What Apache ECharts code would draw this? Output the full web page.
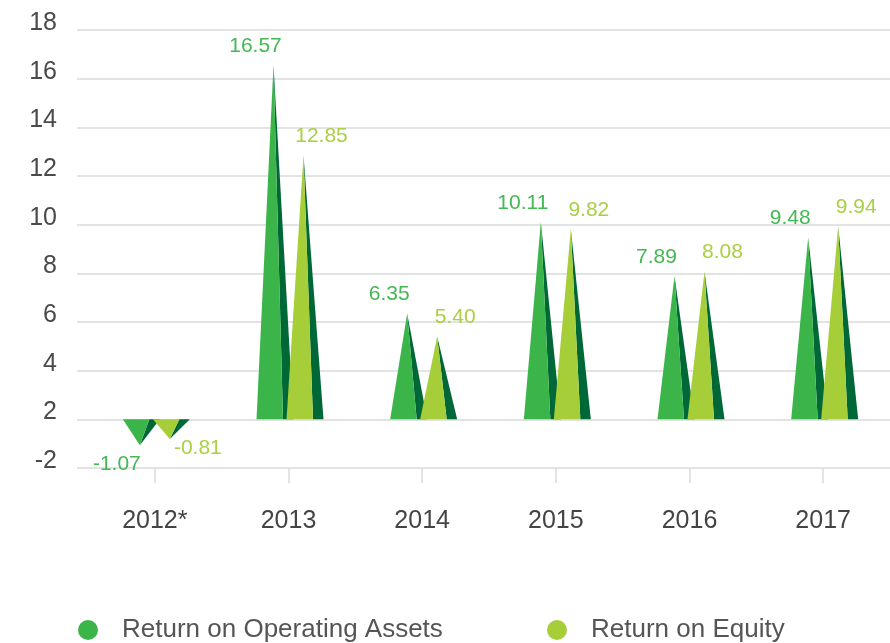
<!DOCTYPE html>
<html>
<head>
<meta charset="utf-8">
<script src="https://cdn.jsdelivr.net/npm/echarts@6/dist/echarts.min.js"></script>
<style>
  html, body { margin: 0; padding: 0; background: #fff; }
  #chart { width: 890px; height: 643px; }
</style>
</head>
<body>
<div id="chart"></div>
<script>
  // data
  const years = ['2012*', '2013', '2014', '2015', '2016', '2017'];
  const operatingAssets = [-1.07, 16.57, 6.35, 10.11, 7.89, 9.48];
  const equity = [-0.81, 12.85, 5.40, 9.82, 8.08, 9.94];
  // the picture labels the axis like this (bars start at the "2" line)
  const yTickValues = [0, 2, 4, 6, 8, 10, 12, 14, 16, 18];
  const yTickLabels = ['-2', '2', '4', '6', '8', '10', '12', '14', '16', '18'];
  const baseValue = 2;

  const FONT = 'Liberation Sans';
  const colors = {
    green: '#3bb54a',
    yellow: '#a6ce39',
    dark: '#006837'
  };

  let chart = echarts.init(document.getElementById('chart'));

  function makeRender(side, lightColor, labelColor) {
    return function (params, api) {
      let idx = api.value(0);
      let v = api.value(1);
      let base = api.coord([idx, baseValue]);
      let tip = api.coord([idx, v >= 0 ? v : baseValue + v]);
      let px = base[0] + side * 15;
      let by = base[1], ty = tip[1];
      // label offsets
      let lx, ly;
      if (v >= 0) {
        lx = px + side * 18;
        ly = ty - 19;
      } else {
        lx = px + (side < 0 ? -23 : 28);
        ly = ty + (side < 0 ? 19 : 9);
      }
      return {
        type: 'group',
        children: [
          {
            type: 'polygon',
            shape: { points: [[px, ty], [px + 9.5, by], [px + 20, by]] },
            style: { fill: colors.dark }
          },
          {
            type: 'polygon',
            shape: { points: [[px - 17, by], [px, ty], [px + 9.5, by]] },
            style: { fill: lightColor }
          },
          {
            type: 'text',
            x: lx,
            y: ly,
            style: {
              text: v.toFixed(2),
              fill: labelColor,
              font: '21px "' + FONT + '"',
              align: 'center',
              verticalAlign: 'middle'
            }
          }
        ]
      };
    };
  }

  let option = {
    backgroundColor: '#fff',
    animation: false,
    textStyle: { fontFamily: FONT },
    grid: [
      { left: 88, right: -5, top: 30, bottom: 175 },
      { left: 77, right: 0, top: 30, bottom: 175 }
    ],
    legend: [
      {
        data: ['Return on Operating Assets'],
        left: 73, top: 612,
        icon: 'circle', itemWidth: 20, itemHeight: 20,
        textStyle: { fontSize: 26, color: '#555', padding: [0, 0, 0, 19], fontFamily: FONT }
      },
      {
        data: ['Return on Equity'],
        left: 542, top: 612,
        icon: 'circle', itemWidth: 20, itemHeight: 20,
        textStyle: { fontSize: 26, color: '#555', padding: [0, 0, 0, 19], fontFamily: FONT }
      }
    ],
    xAxis: [
      {
        type: 'category',
        gridIndex: 0,
        data: years,
        boundaryGap: true,
        axisLine: { show: false },
        axisTick: { show: true, alignWithLabel: true, length: 15, lineStyle: { color: '#dcdcdc', width: 1.5 } },
        axisLabel: { margin: 41, fontSize: 25, color: '#444', fontFamily: FONT }
      },
      { type: 'value', gridIndex: 1, show: false, min: 0, max: 1 }
    ],
    yAxis: [
      {
        type: 'value',
        gridIndex: 0,
        min: 0, max: 18, interval: 2,
        axisLine: { show: false },
        axisTick: { show: false },
        splitLine: { show: false },
        axisLabel: {
          margin: 31,
          fontSize: 25,
          color: '#4a4a4a',
          fontFamily: FONT,
          verticalAlign: 'bottom',
          lineHeight: 14,
          formatter: function (val) {
            let i = yTickValues.indexOf(val);
            return i >= 0 ? yTickLabels[i] : '';
          }
        }
      },
      {
        type: 'value',
        gridIndex: 1,
        min: 0, max: 18, interval: 2,
        axisLine: { show: false },
        axisTick: { show: false },
        axisLabel: { show: false },
        splitLine: { show: true, lineStyle: { color: '#dadada', width: 1.5 } }
      }
    ],
    series: [
      {
        name: 'Return on Operating Assets',
        type: 'custom',
        xAxisIndex: 0, yAxisIndex: 0,
        itemStyle: { color: colors.green },
        renderItem: makeRender(-1, colors.green, '#43b853'),
        data: operatingAssets.map((v, i) => [i, v]),
        z: 3
      },
      {
        name: 'Return on Equity',
        type: 'custom',
        xAxisIndex: 0, yAxisIndex: 0,
        itemStyle: { color: colors.yellow },
        renderItem: makeRender(1, colors.yellow, '#a9cf42'),
        data: equity.map((v, i) => [i, v]),
        z: 4
      }
    ]
  };

  chart.setOption(option);
</script>
</body>
</html>
